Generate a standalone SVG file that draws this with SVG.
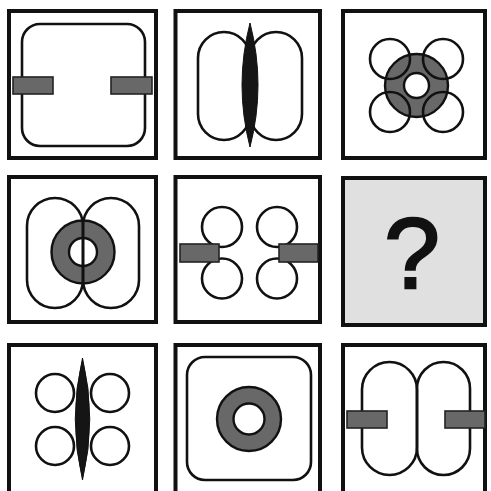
<svg xmlns="http://www.w3.org/2000/svg" width="491" height="491" viewBox="0 0 491 491">
<style>
.box{fill:#fff;stroke:#111;stroke-width:4}
.ln{fill:none;stroke:#111;stroke-width:2.6}
.bar{fill:#686868;stroke:#222;stroke-width:1.6}
.dn{fill:#686868;stroke:#111;stroke-width:2.4}
.hole{fill:#fff;stroke:#111;stroke-width:2.4}
.sp{fill:#151515;stroke:#111;stroke-width:1}
</style>
<rect width="491" height="491" fill="#fff"/>
<g id="p1">
<rect class="box" x="9" y="11" width="147" height="147"/>
<rect class="ln" x="22" y="24" width="123" height="122" rx="18"/>
<rect class="bar" x="13" y="77" width="40" height="17"/>
<rect class="bar" x="111" y="77" width="41" height="17"/>
</g>
<g id="p2">
<rect class="box" x="175.5" y="11" width="144.5" height="147"/>
<rect class="ln" x="198" y="32" width="52" height="108" rx="26"/>
<rect class="ln" x="250" y="32" width="52" height="108" rx="26"/>
<path class="sp" d="M250,23 Q266,85 250,147 Q234,85 250,23 Z"/>
</g>
<g id="p3">
<rect class="box" x="343" y="11" width="142" height="147"/>
<circle class="dn" cx="416.5" cy="85.5" r="31.5"/>
<circle class="hole" cx="416.5" cy="85.5" r="12.5"/>
<circle class="ln" cx="390" cy="59" r="20"/>
<circle class="ln" cx="443" cy="59" r="20"/>
<circle class="ln" cx="390" cy="112" r="20"/>
<circle class="ln" cx="443" cy="112" r="20"/>
</g>
<g id="p4">
<rect class="box" x="9" y="177" width="147" height="145"/>
<circle class="dn" cx="83" cy="252" r="31.5"/>
<circle class="hole" cx="83" cy="252" r="14"/>
<rect class="ln" x="27" y="198" width="56" height="110" rx="28"/>
<rect class="ln" x="83" y="198" width="56" height="110" rx="28"/>
</g>
<g id="p5">
<rect class="box" x="175.5" y="177" width="144.5" height="145"/>
<circle class="ln" cx="222" cy="227" r="20"/>
<circle class="ln" cx="277" cy="227" r="20"/>
<circle class="ln" cx="222" cy="278.5" r="20"/>
<circle class="ln" cx="277" cy="278.5" r="20"/>
<rect class="bar" x="180" y="244" width="39" height="18"/>
<rect class="bar" x="279" y="244" width="39" height="18"/>
</g>
<g id="p6">
<rect x="343" y="178" width="142" height="147" fill="#e0e0e0" stroke="#111" stroke-width="4"/>
<text x="412" y="288" font-family="Liberation Sans, Arial, sans-serif" font-size="100" text-anchor="middle" fill="#111" stroke="#111" stroke-width="2.5">?</text>
</g>
<g id="p7">
<rect class="box" x="9" y="345" width="147" height="152"/>
<circle class="ln" cx="55" cy="393" r="19"/>
<circle class="ln" cx="110" cy="393" r="19"/>
<circle class="ln" cx="55" cy="446" r="19"/>
<circle class="ln" cx="110" cy="446" r="19"/>
<path class="sp" d="M82.5,358 Q97,419 82.5,480 Q68,419 82.5,358 Z"/>
</g>
<g id="p8">
<rect class="box" x="175.5" y="345" width="144.5" height="152"/>
<rect class="ln" x="187" y="357" width="124" height="123" rx="18"/>
<circle class="dn" cx="249" cy="419" r="32"/>
<circle class="hole" cx="249" cy="419" r="15.5"/>
</g>
<g id="p9">
<rect class="box" x="343" y="345" width="142" height="152"/>
<rect class="ln" x="362" y="362" width="55" height="113" rx="27.5"/>
<rect class="ln" x="417" y="362" width="53" height="113" rx="26.5"/>
<rect class="bar" x="347" y="411" width="40" height="17"/>
<rect class="bar" x="445" y="411" width="40" height="17"/>
</g>
</svg>
